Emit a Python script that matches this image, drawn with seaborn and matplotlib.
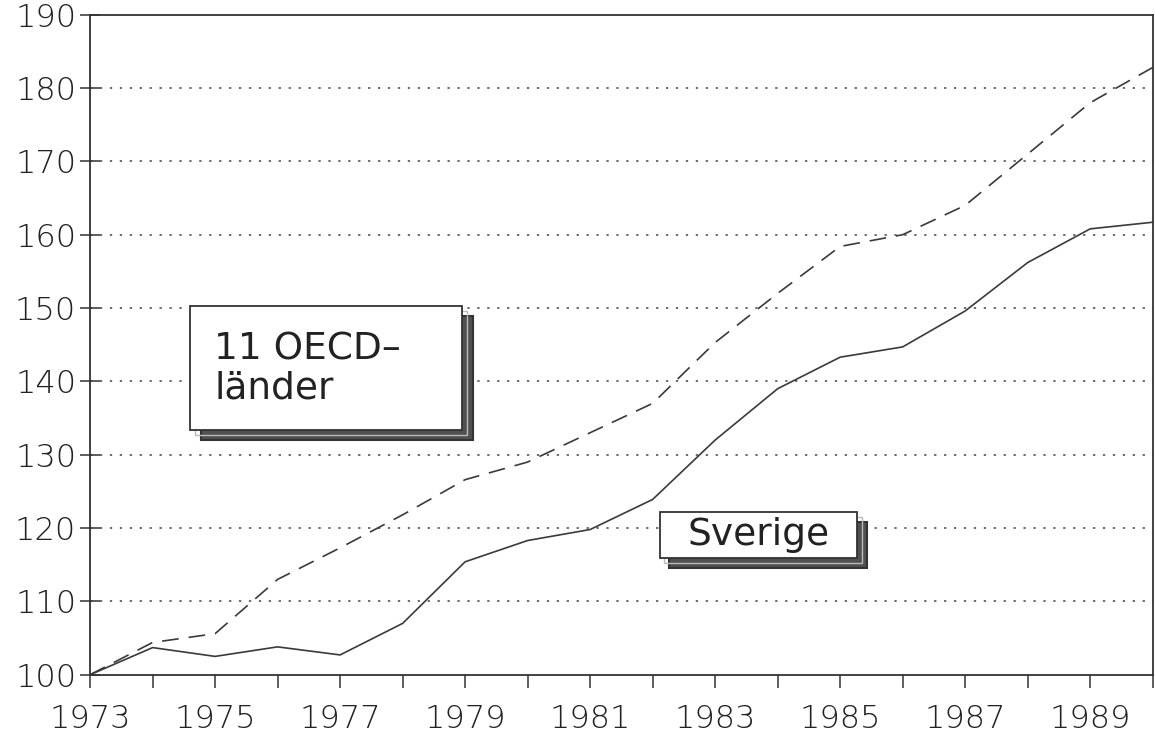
import numpy as np
import pandas as pd
import seaborn as sns
import matplotlib.pyplot as plt
from matplotlib.patches import Rectangle

years = list(range(1973, 1991))
oecd = [100, 104.4, 105.6, 113.0, 117.3, 121.8, 126.6, 129.0, 133.0, 137.0,
        145.3, 152.0, 158.4, 160.0, 164.0, 171.0, 178.0, 182.8]
sverige = [100, 103.7, 102.5, 103.8, 102.7, 107.0, 115.4, 118.3, 119.8, 123.9,
           132.0, 139.0, 143.3, 144.7, 149.6, 156.2, 160.8, 161.7]
y_ticks = list(range(100, 200, 10))
x_labels = [str(y) if y % 2 == 1 else '' for y in years]

df = pd.DataFrame({'year': years, 'oecd': oecd, 'sverige': sverige})

sns.set_style('white')
plt.rcParams['font.family'] = ['DejaVu Sans']

fig = plt.figure(figsize=(11.55, 7.35), dpi=100)
ax = fig.add_axes([0.078, 0.082, 0.920, 0.898])

line_col = '#3a3a3a'
sns.lineplot(data=df, x='year', y='oecd', ax=ax, color=line_col, lw=1.2,
             linestyle=(0, (10, 6)))
sns.lineplot(data=df, x='year', y='sverige', ax=ax, color=line_col, lw=1.2)

ax.set_xlim(1973, 1990)
ax.set_ylim(100, 190)
ax.set_yticks(y_ticks)
ax.set_xticks(years)
ax.set_xticklabels(x_labels)
ax.set_xlabel('')
ax.set_ylabel('')

for v in y_ticks[1:-1]:
    ax.axhline(v, color='#444444', lw=1.1, linestyle=(0, (1.5, 5)), zorder=0)

for s in ax.spines.values():
    s.set_color('#333333')
    s.set_linewidth(1.3)

ax.tick_params(axis='y', direction='inout', length=14, width=1.1, color='#333333',
               labelsize=23, labelcolor='#222222', pad=3)
ax.tick_params(axis='x', direction='out', length=9, width=1.1, color='#333333',
               labelsize=23, labelcolor='#222222', pad=12)
ax.tick_params(left=True, bottom=True)
for lab in ax.get_xticklabels() + ax.get_yticklabels():
    lab.set_fontweight('light')

# label boxes with a double-line drop shadow
def label_box(x0, y0, w, h, dx, dy):
    ax.add_patch(Rectangle((x0 + dx, y0 - dy), w, h, transform=ax.transAxes,
                           facecolor='#505050', edgecolor='#333333', lw=1.5, zorder=4))
    ax.add_patch(Rectangle((x0 + dx / 2, y0 - dy / 2), w, h, transform=ax.transAxes,
                           facecolor='none', edgecolor='#bbbbbb', lw=1.0, zorder=4.5))
    ax.add_patch(Rectangle((x0, y0), w, h, transform=ax.transAxes,
                           facecolor='white', edgecolor='#333333', lw=1.3, zorder=5))

label_box(0.094, 0.371, 0.256, 0.187, 0.010, 0.015)
ax.text(0.117, 0.463, '11 OECD–\nländer', transform=ax.transAxes, fontsize=27,
        color='#222222', ha='left', va='center', linespacing=1.1, zorder=6)

label_box(0.536, 0.177, 0.186, 0.070, 0.009, 0.015)
ax.text(0.629, 0.212, 'Sverige', transform=ax.transAxes, fontsize=27,
        color='#222222', ha='center', va='center', zorder=6)

fig.savefig('out.png', dpi=100)
